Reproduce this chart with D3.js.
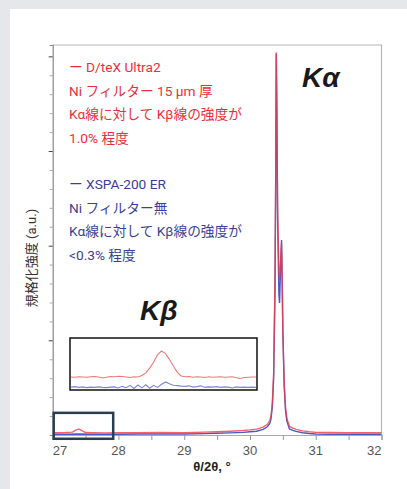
<!DOCTYPE html>
<html>
<head>
<meta charset="utf-8">
<title></title>
<style type="text/css">
	body { margin: 0; background-color: #e5e7eb; }
	svg { display: block; }
	.tick-label { font-family: 'Liberation Sans', Arial, sans-serif; font-size: 13px; fill: #555; }
	.axis-title { font-family: 'Liberation Sans', Arial, sans-serif; font-size: 13px; font-weight: bold; fill: #222; }
	.note { font-family: Roboto, 'Noto Sans CJK JP', sans-serif; font-size: 13.7px; }
	.big { font-family: 'Liberation Sans', Arial, sans-serif; font-size: 28px; font-weight: bold; font-style: italic; fill: #1a1a1a; }
</style>
<script src="https://cdn.jsdelivr.net/npm/d3@7"></script>
</head>
<body>
<div id="chart"></div>
<script type="text/javascript">
	// main scan, 2theta (deg) and normalized intensity
	var redX = [27.00, 27.10, 27.20, 27.30, 27.35, 27.40, 27.45, 27.50, 27.60, 27.80, 28.00, 28.30, 28.60, 29.00, 29.30, 29.50, 29.70, 29.90, 30.00, 30.10, 30.20, 30.26, 30.30, 30.32, 30.34, 30.36, 30.38, 30.39, 30.40, 30.41, 30.42, 30.44, 30.45, 30.47, 30.48, 30.49, 30.50, 30.52, 30.54, 30.56, 30.60, 30.65, 30.70, 30.80, 30.90, 31.00, 31.20, 31.50, 31.80, 32.00];
	var redY = [0.12, 0.12, 0.13, 0.15, 0.26, 0.32, 0.22, 0.13, 0.12, 0.11, 0.12, 0.12, 0.13, 0.12, 0.15, 0.17, 0.20, 0.24, 0.27, 0.31, 0.42, 0.55, 0.75, 1.0, 1.7, 3.3, 8.0, 13.0, 20.2, 17.0, 12.0, 8.6, 8.2, 9.5, 10.15, 8.0, 5.5, 2.8, 1.5, 0.9, 0.45, 0.36, 0.30, 0.22, 0.17, 0.14, 0.13, 0.12, 0.12, 0.12];
	var blueX = [27.00, 27.20, 27.40, 27.60, 27.80, 28.00, 28.30, 28.60, 29.00, 29.30, 29.50, 29.70, 29.90, 30.00, 30.10, 30.20, 30.26, 30.30, 30.32, 30.34, 30.36, 30.38, 30.39, 30.40, 30.41, 30.42, 30.44, 30.45, 30.47, 30.48, 30.49, 30.50, 30.52, 30.54, 30.56, 30.60, 30.65, 30.70, 30.80, 30.90, 31.00, 31.20, 31.50, 31.80, 32.00];
	var blueY = [0.04, 0.04, 0.05, 0.04, 0.04, 0.04, 0.05, 0.05, 0.05, 0.07, 0.09, 0.11, 0.14, 0.17, 0.20, 0.30, 0.42, 0.60, 0.85, 1.5, 3.0, 7.6, 12.8, 20.15, 16.5, 11.5, 7.4, 6.97, 9.4, 10.3, 8.2, 5.4, 2.6, 1.3, 0.75, 0.32, 0.24, 0.19, 0.12, 0.08, 0.05, 0.04, 0.04, 0.04, 0.04];

	// Kbeta region enlarged (27.0 - 27.9 deg)
	var insetRed = [2.5, 2.45, 2.55, 2.5, 2.45, 2.55, 2.6, 2.5, 2.3, 2.45, 2.6, 2.55, 2.65, 2.6, 2.5, 2.4, 2.55, 2.5, 2.8, 3.3, 4.2, 5.4, 6.8, 7.5, 7.0, 5.9, 4.6, 3.4, 2.7, 2.55, 2.6, 2.45, 2.55, 2.5, 2.4, 2.55, 2.45, 2.5, 2.55, 2.45, 2.5, 2.55, 2.35, 2.2, 2.4, 2.45, 2.5, 2.5];
	var insetBlue = [0.55, 0.65, 0.5, 0.6, 0.45, 0.55, 0.5, 0.6, 0.5, 0.45, 0.55, 0.6, 0.4, 0.7, 0.45, 0.9, 0.3, 0.95, 0.4, 1.0, 0.35, 0.9, 0.5, 1.1, 1.55, 1.2, 0.9, 0.85, 0.75, 0.7, 0.8, 0.55, 0.65, 0.8, 0.5, 0.6, 0.55, 0.65, 0.5, 0.6, 0.55, 0.4, 0.6, 0.5, 0.55, 0.5, 0.55, 0.5];

	var xTicks = [27, 28, 29, 30, 31, 32];
	var redNote = ['ー D/teX Ultra2', 'Ni フィルター 15 µm 厚', 'Kα線に対して Kβ線の強度が', '1.0% 程度'];
	var blueNote = ['ー XSPA-200 ER', 'Ni フィルター無', 'Kα線に対して Kβ線の強度が', '<0.3% 程度'];

	var width = 407, height = 489;
	// 'top' is reserved on window, so prefixed names
	var pLeft = 52.7, pRight = 381.5, pTop = 45, pBottom = 435;
	var redColor = '#ef3b47', blueColor = '#4a58c4';

	var svg = d3.select('#chart')
		.append('svg')
		.attr('width', width)
		.attr('height', height);

	svg.append('rect')
		.attr('x', 10).attr('y', 9)
		.attr('width', width - 10).attr('height', height - 9)
		.attr('fill', '#fff');

	var xScale = d3.scaleLinear().domain([27, 32]).range([pLeft, pRight]);
	var yScale = d3.scaleLinear().domain([0, 20.6]).range([pBottom, pTop]);

	svg.append('clipPath').attr('id', 'plotClip')
		.append('rect')
		.attr('x', pLeft).attr('y', pTop - 2)
		.attr('width', pRight - pLeft).attr('height', pBottom - pTop + 2);

	// frame
	svg.append('path')
		.attr('d', 'M' + pLeft + ',' + pTop + 'H' + pRight + 'V' + pBottom)
		.attr('fill', 'none')
		.attr('stroke', '#b5b5b5')
		.attr('stroke-width', 1.2);

	// y axis, minor + major ticks, no labels
	var yAxis = d3.axisLeft(yScale)
		.tickValues(d3.range(1, 21))
		.tickSize(3)
		.tickFormat('');
	var yAxisG = svg.append('g')
		.attr('transform', 'translate(' + pLeft + ',0)')
		.call(yAxis);
	yAxisG.select('.domain').attr('stroke', '#888').attr('stroke-width', 1.2);
	yAxisG.selectAll('.tick line')
		.attr('stroke', function(d){ return d % 5 == 0 ? '#444' : '#aaa'; })
		.attr('x2', function(d){ return d % 5 == 0 ? -4 : -3; });

	// x axis
	var xAxis = d3.axisBottom(xScale)
		.tickValues(d3.range(27, 32.01, 0.5))
		.tickSize(5)
		.tickFormat('');
	var xAxisG = svg.append('g')
		.attr('transform', 'translate(0,' + pBottom + ')')
		.call(xAxis);
	xAxisG.select('.domain').attr('stroke', '#aaa').attr('stroke-width', 1.2);
	xAxisG.selectAll('.tick line').attr('stroke', '#999');

	svg.selectAll('.xlabel')
		.data(xTicks)
		.enter()
		.append('text')
		.attr('class', 'tick-label')
		.attr('x', function(d){ return xScale(d); })
		.attr('y', 455)
		.attr('text-anchor', function(d, i){
			return i == 0 ? 'start' : (i == xTicks.length - 1 ? 'end' : 'middle');
		})
		.text(function(d){ return d; });

	svg.append('text')
		.attr('class', 'axis-title')
		.attr('x', 212).attr('y', 471)
		.attr('text-anchor', 'middle')
		.text('θ/2θ, °');

	svg.append('text')
		.attr('transform', 'translate(36,258) rotate(-90)')
		.attr('text-anchor', 'middle')
		.style('font-family', "Roboto, 'Noto Sans CJK JP', sans-serif")
		.style('font-size', '13px')
		.style('fill', '#333')
		.text('規格化強度 (a.u.)');

	// curves
	var line = d3.line()
		.x(function(d){ return xScale(d[0]); })
		.y(function(d){ return yScale(d[1]); });

	var plot = svg.append('g').attr('clip-path', 'url(#plotClip)');
	plot.append('path')
		.datum(d3.zip(blueX, blueY))
		.attr('d', line)
		.attr('fill', 'none')
		.attr('stroke', blueColor)
		.attr('stroke-width', 1.4);
	plot.append('path')
		.datum(d3.zip(redX, redY))
		.attr('d', line)
		.attr('fill', 'none')
		.attr('stroke', redColor)
		.attr('stroke-opacity', 0.8)
		.attr('stroke-width', 1.4);

	// highlight box around the Kbeta region
	svg.append('rect')
		.attr('x', xScale(27.0) + 1)
		.attr('y', yScale(1.17))
		.attr('width', xScale(27.92) - xScale(27.0) - 1)
		.attr('height', yScale(-0.2) - yScale(1.17))
		.attr('fill', 'none')
		.attr('stroke', '#2b3d4f')
		.attr('stroke-width', 2.5);

	// inset
	var ix0 = 70, ix1 = 257, iy0 = 338, iy1 = 390;
	var insetX = d3.scaleLinear().domain([0, insetRed.length - 1]).range([ix0 + 1, ix1 - 1]);
	var insetY = d3.scaleLinear().domain([0, 10]).range([iy1, iy0]);
	var insetLine = d3.line()
		.x(function(d, i){ return insetX(i); })
		.y(function(d){ return insetY(d); });

	svg.append('rect')
		.attr('x', ix0).attr('y', iy0)
		.attr('width', ix1 - ix0).attr('height', iy1 - iy0)
		.attr('fill', '#fff')
		.attr('stroke', '#111')
		.attr('stroke-width', 1.5);
	svg.append('path')
		.datum(insetRed)
		.attr('d', insetLine)
		.attr('fill', 'none')
		.attr('stroke', '#f07a7a')
		.attr('stroke-width', 1.1);
	svg.append('path')
		.datum(insetBlue)
		.attr('d', insetLine)
		.attr('fill', 'none')
		.attr('stroke', '#7f86d6')
		.attr('stroke-width', 1.1);

	// labels
	svg.append('text').attr('class', 'big').attr('x', 302).attr('y', 87).text('Kα');
	svg.append('text').attr('class', 'big').attr('x', 140).attr('y', 320).text('Kβ');

	svg.selectAll('.rnote')
		.data(redNote)
		.enter()
		.append('text')
		.attr('class', 'note')
		.attr('x', 69)
		.attr('y', function(d, i){ return 72 + i * 23.5; })
		.style('fill', '#e8303a')
		.text(function(d){ return d; });

	svg.selectAll('.bnote')
		.data(blueNote)
		.enter()
		.append('text')
		.attr('class', 'note')
		.attr('x', 69)
		.attr('y', function(d, i){ return 189 + i * 23.5; })
		.style('fill', '#3b3f98')
		.text(function(d){ return d; });
</script>
</body>
</html>
